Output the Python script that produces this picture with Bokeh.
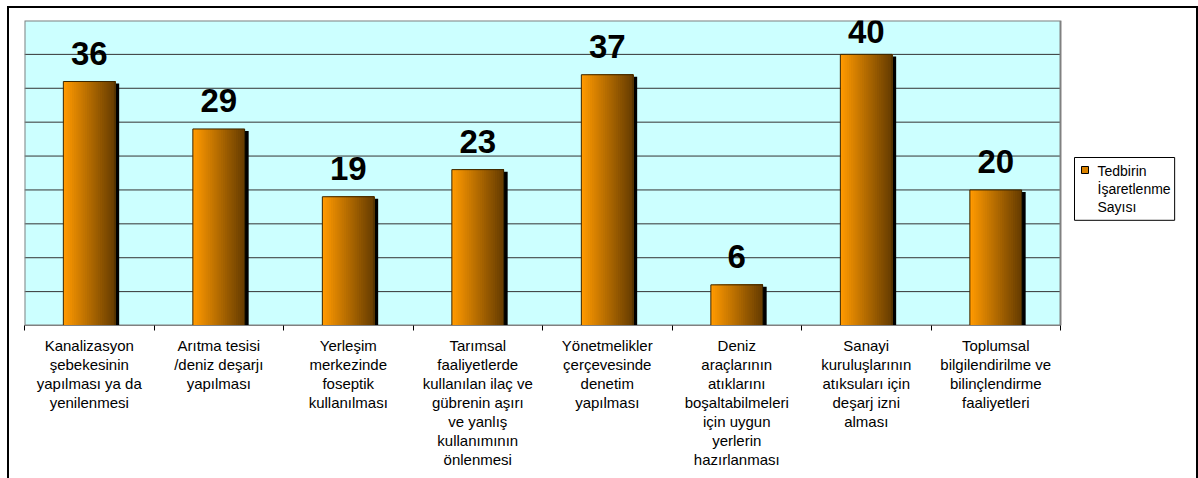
from bokeh.plotting import figure
from bokeh.models import (Range1d, FixedTicker, Label, BoxAnnotation, ColumnDataSource)
from bokeh.core.properties import value
from bokeh.transform import dodge
from bokeh.embed import file_html
from bokeh.resources import INLINE

categories = [
    "Kanalizasyon\nşebekesinin\nyapılması ya da\nyenilenmesi",
    "Arıtma tesisi\n/deniz deşarjı\nyapılması",
    "Yerleşim\nmerkezinde\nfoseptik\nkullanılması",
    "Tarımsal\nfaaliyetlerde\nkullanılan ilaç ve\ngübrenin aşırı\nve yanlış\nkullanımının\nönlenmesi",
    "Yönetmelikler\nçerçevesinde\ndenetim\nyapılması",
    "Deniz\naraçlarının\natıklarını\nboşaltabilmeleri\niçin uygun\nyerlerin\nhazırlanması",
    "Sanayi\nkuruluşlarının\natıksuları için\ndeşarj izni\nalması",
    "Toplumsal\nbilgilendirilme ve\nbilinçlendirme\nfaaliyetleri",
]
values = [36, 29, 19, 23, 37, 6, 40, 20]
series_name = "Tedbirin\nİşaretlenme\nSayısı"
grid_values = [5, 10, 15, 20, 25, 30, 35, 40]

n = len(categories)
ymax = 45
PW, FH = 1036, 305          # plot-area size in px
RIGHT = 136                 # legend area right of plot area, px
FW = PW + RIGHT
px_x = n / PW
px_y = ymax / FH

xs = [i + 0.5 for i in range(n)]
label_y = [min(v, ymax - 39 * px_y) for v in values]
src = ColumnDataSource(dict(x=xs, top=values, label=[str(v) for v in values], ly=label_y,
                            shadow_top=[v - 0.3 for v in values]))

p = figure(frame_width=FW, frame_height=FH, x_range=Range1d(0, n + RIGHT * px_x),
           y_range=Range1d(0, ymax),
           output_backend="svg", toolbar_location=None, min_border_left=15, min_border_top=12,
           min_border_right=0, min_border_bottom=153)
p.styles = {"border": "2px solid black", "margin-left": "7px", "margin-top": "6px"}
p.background_fill_color = "white"
p.border_fill_color = "white"
p.outline_line_color = None
p.xgrid.visible = False
p.ygrid.visible = False
p.yaxis.visible = False

# plot area background + grid
p.quad(left=[0], right=[n], bottom=[0], top=[ymax], fill_color="#CCFFFF", line_color=None)
p.segment(x0=[0] * len(grid_values), x1=[n] * len(grid_values), y0=grid_values,
          y1=grid_values, line_color="#333333", line_width=1)
p.quad(left=[0], right=[n], bottom=[0], top=[ymax], fill_color=None, line_color="#808080",
       line_width=2)

ax = p.xaxis[0]
ax.bounds = (0, n)
ax.ticker = FixedTicker(ticks=xs, minor_ticks=list(range(0, n + 1)))
ax.major_label_overrides = {x: c for x, c in zip(xs, categories)}
ax.major_tick_line_color = None
ax.minor_tick_line_color = "black"
ax.minor_tick_in = 0
ax.minor_tick_out = 5
ax.axis_line_color = "#808080"
ax.axis_line_width = 1
ax.major_label_standoff = 5
ax.major_label_text_font = "Liberation Sans"
ax.major_label_text_font_size = "15px"
ax.major_label_text_color = "black"
ax.major_label_text_line_height = 1.12

# shadow
p.vbar(x=dodge("x", 0.031, range=p.x_range), top="shadow_top", width=0.4, source=src,
       fill_color="black", line_color=None)

# gradient: overlapping strips anchored at the right edge
nstrip = 24
bw = 0.4
w = bw / nstrip
c0 = (255, 153, 0)
c1 = (104, 62, 0)
for k in range(nstrip):
    t = k / (nstrip - 1)
    col = "#%02x%02x%02x" % tuple(int(a + (b - a) * t) for a, b in zip(c0, c1))
    p.vbar(x=dodge("x", k * w / 2, range=p.x_range), top="top", width=bw - k * w,
           source=src, fill_color=col, line_color=None)

p.vbar(x="x", top="top", width=bw, source=src, fill_color=None,
       line_color="#3a2600", line_width=1)

p.text(x="x", y="ly", text="label", source=src, text_align="center",
       text_baseline="alphabetic", y_offset=-28, text_font=value("Liberation Sans"),
       text_font_size="33px", text_font_style="bold", text_color="black")

# legend
leg = Label(x=n + 14 * px_x, y=ymax - 137 * px_y, anchor="top_left", text=series_name,
            text_font="Liberation Sans", text_font_size="14px", text_line_height=1.15,
            text_color="black", border_line_color="black", border_line_width=1,
            background_fill_color="white", padding=(23, 4, 5, 5))
p.add_layout(leg)
sw = BoxAnnotation(left=n + 21 * px_x, right=n + 28 * px_x, top=ymax - 146 * px_y,
                   bottom=ymax - 153 * px_y, fill_color="#D98200", fill_alpha=1,
                   line_color="black", line_width=1, line_alpha=1)
p.add_layout(sw)

open("out.html", "w").write(file_html(p, INLINE))
